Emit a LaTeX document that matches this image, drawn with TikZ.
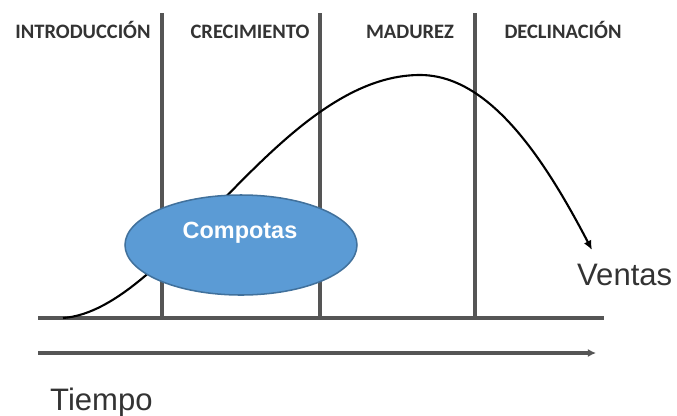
\documentclass[tikz,border=0pt]{standalone}
\usepackage{fontspec}
\setmainfont{Liberation Sans}
\newfontfamily\calibri{Carlito}
\usetikzlibrary{arrows.meta,shapes.geometric}
\definecolor{linegray}{HTML}{555555}
\definecolor{txtgray}{HTML}{333333}
\definecolor{ellfill}{HTML}{5B9BD5}
\definecolor{elldraw}{HTML}{41719C}
\tikzset{fase/.style={font=\calibri\bfseries\fontsize{17.5}{17.5}\selectfont,text=txtgray,anchor=base,inner sep=0pt},
  eje/.style={font=\fontsize{26.5}{26.5}\selectfont,text=txtgray,inner sep=0pt,anchor=base west}}
\begin{document}
\begin{tikzpicture}[x=0.03cm,y=-0.03cm,>=latex]
\useasboundingbox (0,0) rectangle (677,415);
\node[fase](intro) at (83,38) {INTRODUCCIÓN}; \node[fase](crec) at (250,38) {CRECIMIENTO};
\node[fase](mad) at (410,38) {MADUREZ}; \node[fase](decl) at (563,38) {DECLINACIÓN};
\coordinate(b0) at (38,318); \coordinate(b1) at (604,318);
\coordinate(t0) at (38,353); \coordinate(t1) at (596,353);
\coordinate(c0) at (63,318); \coordinate(pico) at (420,75); \coordinate(c1) at (592,250);
\foreach \x/\n in {162/1,320/2,475/3}{
\coordinate(top\n) at (\x,13); \coordinate(bot\n) at (\x,318);
\draw[linegray,line width=2.6pt] (top\n) -- (bot\n);}
\draw[linegray,line width=2.6pt] (b0) -- (b1);
\draw[linegray,line width=2.6pt,-{Latex[length=7pt,width=7pt]}] (t0) -- (t1);
\draw[line width=1.8pt,-{Latex[length=8pt,width=7pt]}] (c0) .. controls (170,310) and (280,75) .. (pico)
 .. controls (490,75) and (545,160) .. (c1);
\node[ellipse,fill=ellfill,draw=elldraw,line width=1.3pt,minimum width=232*0.03cm,minimum height=100*0.03cm](ell) at (241,245) {};
\node[font=\bfseries\fontsize{20}{20}\selectfont,text=white](comp) at (240,233) {Compotas};
\node[eje](ventas) at (577,285) {Ventas};
\node[eje](tiempo) at (50,410) {Tiempo};
\end{tikzpicture}
\end{document}
